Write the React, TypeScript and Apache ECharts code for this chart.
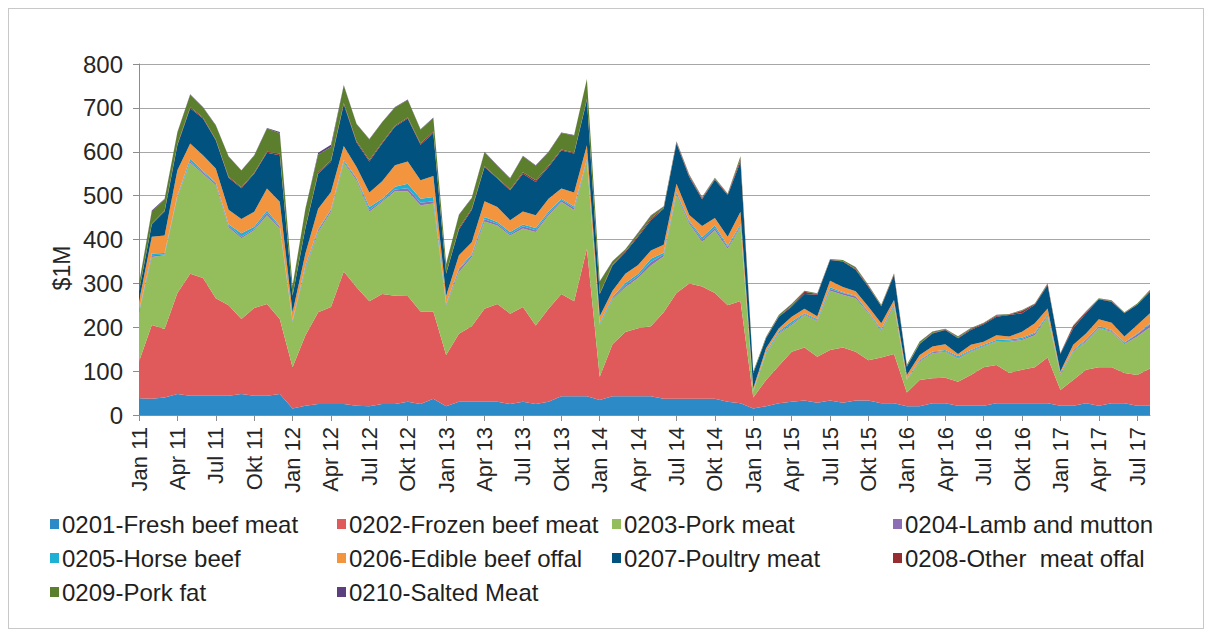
import React, { useEffect, useRef } from "react";
import * as echarts from "echarts";

const monthNames = ["Jan", "Feb", "Mrz", "Apr", "Mai", "Jun", "Jul", "Aug", "Sep", "Okt", "Nov", "Dez"];
const years = ["11", "12", "13", "14", "15", "16", "17"];
const monthCount = 80; // Jan 11 .. Aug 17

const freshBeef = [
  38, 37, 40, 48, 44, 44, 44, 44, 48, 44, 44, 48,
  15, 21, 25, 25, 25, 21, 20, 25, 25, 30, 25, 37,
  20, 30, 30, 30, 30, 25, 30, 25, 30, 43, 43, 43,
  34, 43, 43, 43, 43, 37, 37, 37, 37, 37, 30, 27,
  15, 20, 27, 30, 33, 28, 33, 28, 33, 33, 27, 27,
  20, 20, 27, 27, 21, 21, 21, 27, 27, 27, 27, 27,
  21, 21, 27, 21, 27, 27, 21, 21,
];
const frozenBeef = [
  84, 168, 156, 230, 278, 268, 222, 206, 171, 200, 209, 171,
  94, 160, 209, 221, 302, 270, 239, 251, 247, 241, 211, 199,
  117, 155, 172, 212, 223, 206, 216, 179, 212, 233, 216, 336,
  53, 118, 146, 155, 159, 197, 241, 263, 256, 241, 220, 233,
  25, 60, 85, 114, 121, 105, 115, 126, 111, 92, 104, 112,
  31, 60, 57, 58, 55, 70, 88, 87, 69, 76, 82, 104,
  36, 59, 76, 88, 82, 69, 70, 85,
];
const porkMeat = [
  111, 155, 168, 219, 253, 238, 258, 178, 184, 177, 202, 206,
  103, 152, 183, 217, 248, 244, 204, 210, 238, 239, 242, 246,
  113, 141, 158, 199, 179, 178, 179, 213, 213, 210, 208, 198,
  118, 102, 102, 114, 139, 128, 223, 136, 102, 143, 129, 168,
  13, 59, 74, 61, 74, 81, 135, 120, 122, 107, 60, 108,
  29, 42, 57, 59, 53, 53, 47, 53, 71, 68, 73, 93,
  34, 64, 64, 89, 81, 66, 88, 94,
];
const lambMutton = [
  2, 4, 2, 2, 3, 3, 4, 4, 3, 3, 6, 3,
  2, 3, 4, 4, 3, 4, 4, 3, 4, 7, 6, 5,
  2, 5, 4, 5, 4, 3, 5, 4, 4, 4, 5, 3,
  2, 3, 5, 5, 8, 4, 4, 4, 4, 5, 4, 3,
  1, 2, 2, 3, 2, 2, 4, 4, 4, 2, 2, 3,
  1, 2, 2, 2, 2, 2, 2, 1, 2, 2, 4, 2,
  3, 2, 2, 1, 2, 2, 5, 7,
];
const horseBeef = [
  2, 4, 3, 2, 6, 3, 2, 3, 8, 5, 5, 3,
  2, 5, 3, 2, 3, 2, 7, 4, 6, 10, 9, 10,
  2, 3, 3, 5, 4, 5, 4, 5, 5, 3, 3, 3,
  3, 3, 5, 5, 7, 4, 3, 3, 6, 6, 3, 4,
  1, 3, 3, 5, 2, 3, 4, 2, 2, 2, 3, 3,
  1, 2, 2, 2, 3, 2, 2, 3, 3, 3, 2, 3,
  1, 2, 3, 3, 2, 2, 2, 2,
];
const edibleOffal = [
  21, 38, 40, 57, 35, 36, 32, 33, 33, 34, 50, 55,
  18, 27, 46, 39, 32, 24, 33, 40, 49, 51, 42, 48,
  18, 30, 27, 36, 34, 27, 30, 29, 29, 23, 32, 32,
  15, 14, 21, 20, 19, 18, 19, 13, 26, 17, 20, 28,
  6, 8, 7, 11, 10, 6, 15, 12, 10, 11, 13, 9,
  9, 11, 11, 13, 5, 12, 7, 11, 7, 14, 21, 14,
  4, 12, 14, 16, 16, 13, 19, 23,
];
const poultryMeat = [
  24, 28, 54, 57, 80, 84, 64, 73, 70, 87, 82, 106,
  38, 57, 80, 69, 95, 56, 71, 86, 88, 98, 81, 97,
  50, 59, 73, 78, 65, 68, 86, 76, 72, 87, 89, 103,
  50, 58, 49, 64, 69, 82, 92, 86, 61, 87, 95, 114,
  34, 23, 26, 23, 34, 49, 47, 58, 49, 45, 39, 57,
  19, 25, 30, 33, 36, 34, 40, 42, 49, 42, 42, 53,
  40, 38, 46, 46, 48, 53, 46, 49,
];
const otherOffal = [
  1, 2, 3, 2, 3, 2, 2, 2, 2, 2, 2, 4,
  1, 2, 3, 3, 3, 3, 3, 2, 2, 2, 3, 4,
  1, 3, 3, 2, 2, 2, 3, 4, 3, 2, 2, 2,
  2, 2, 2, 3, 4, 2, 2, 3, 2, 2, 2, 6,
  1, 1, 1, 2, 5, 2, 1, 1, 2, 2, 1, 3,
  1, 1, 1, 1, 1, 2, 2, 2, 1, 5, 2, 2,
  1, 5, 3, 1, 1, 1, 1, 2,
];
const porkFat = [
  16, 28, 26, 27, 28, 23, 32, 46, 38, 39, 53, 46,
  21, 42, 41, 31, 40, 39, 47, 46, 42, 40, 31, 31,
  21, 30, 24, 32, 27, 25, 37, 33, 31, 38, 39, 45,
  27, 7, 4, 6, 6, 3, 2, 2, 2, 2, 1, 6,
  3, 2, 3, 4, 2, 1, 1, 2, 4, 2, 2, 1,
  3, 4, 3, 1, 3, 2, 1, 2, 1, 2, 1, 2,
  1, 1, 1, 1, 2, 1, 2, 2,
];
const saltedMeat = [
  1, 2, 1, 1, 1, 1, 1, 1, 1, 1, 1, 3,
  1, 1, 4, 5, 1, 1, 1, 1, 1, 1, 1, 1,
  1, 1, 1, 1, 1, 1, 1, 1, 1, 1, 1, 1,
  1, 1, 0.5, 1, 1, 0.5, 1, 1, 1, 1, 1, 1,
  0.3, 0.3, 0.3, 0.3, 0.3, 0.3, 0.3, 0.3, 0.3, 0.3, 0.3, 0.3,
  0.3, 0.3, 0.3, 0.3, 0.3, 0.3, 0.3, 0.3, 0.3, 0.3, 0.3, 0.3,
  0.3, 0.3, 0.3, 0.3, 0.3, 0.3, 0.3, 0.3,
];

const seriesNames = [
  "0201-Fresh beef meat",
  "0202-Frozen beef meat",
  "0203-Pork meat",
  "0204-Lamb and mutton",
  "0205-Horse beef",
  "0206-Edible beef offal",
  "0207-Poultry meat",
  "0208-Other  meat offal",
  "0209-Pork fat",
  "0210-Salted Meat",
];
const seriesColors = [
  "#2C8AC6", "#E05A5B", "#94BE5C", "#8D6DB3", "#1FB0D5",
  "#F3953F", "#01527F", "#962D31", "#5B7F2C", "#5C3F7E",
];
const seriesData = [
  freshBeef, frozenBeef, porkMeat, lambMutton, horseBeef,
  edibleOffal, poultryMeat, otherOffal, porkFat, saltedMeat,
];

const yTicks = { min: 0, max: 800, interval: 100 };

const categories: string[] = [];
for (let i = 0; i < monthCount; i++) {
  categories.push(monthNames[i % 12] + " " + years[Math.floor(i / 12)]);
}

const legendColumns = [
  [0, 4, 8],
  [1, 5, 9],
  [2, 6],
  [3, 7],
];
const legendLeft = [41, 328, 603, 884];

export default function App() {
  const ref = useRef<HTMLDivElement>(null);
  useEffect(() => {
    if (!ref.current) return;
    const chart = echarts.init(ref.current, null, { renderer: "svg" });
    const font = "'Liberation Sans', Arial, sans-serif";
    const option: any = {
      animation: false,
      grid: { left: 130, top: 55, width: 1011, height: 351, containLabel: false },
      xAxis: {
        type: "category",
        data: categories,
        boundaryGap: false,
        axisLine: { show: true, lineStyle: { color: "#8C8C8C", width: 1 } },
        axisTick: { show: true, interval: 2, length: 6, lineStyle: { color: "#8C8C8C" } },
        axisLabel: {
          interval: 2,
          rotate: 90,
          margin: 12,
          fontSize: 22,
          fontFamily: font,
          color: "#262626",
        },
        splitLine: { show: false },
      },
      yAxis: {
        type: "value",
        min: yTicks.min,
        max: yTicks.max,
        interval: yTicks.interval,
        axisLine: { show: true, lineStyle: { color: "#8C8C8C", width: 1 } },
        axisTick: { show: true, length: 6, lineStyle: { color: "#8C8C8C" } },
        axisLabel: { fontSize: 24, fontFamily: font, color: "#262626", margin: 16 },
        splitLine: { show: true, lineStyle: { color: "#A6A6A6", width: 1 } },
      },
      legend: legendColumns.map((col, ci) => ({
        orient: "vertical",
        left: legendLeft[ci],
        top: 502,
        padding: 0,
        itemGap: 8,
        itemWidth: 9,
        itemHeight: 10,
        icon: "rect",
        selectedMode: false,
        data: col.map((k) => seriesNames[k]),
        textStyle: { fontSize: 24, fontFamily: font, color: "#1F1F1F", lineHeight: 26, padding: [0, 0, 0, -2] },
      })),
      graphic: [
        {
          type: "text",
          x: 53,
          y: 259,
          rotation: Math.PI / 2,
          style: {
            text: "$1M",
            fontSize: 23,
            fontFamily: font,
            fill: "#262626",
            textAlign: "center",
            textVerticalAlign: "middle",
          },
        },
      ],
      series: seriesNames.map((name, k) => ({
        name,
        type: "line",
        stack: "total",
        data: seriesData[k],
        showSymbol: false,
        symbol: "none",
        smooth: false,
        lineStyle: { width: 0 },
        areaStyle: { color: seriesColors[k], opacity: 1 },
        itemStyle: { color: seriesColors[k] },
        emphasis: { disabled: true },
      })),
    };
    chart.setOption(option);
    return () => chart.dispose();
  }, []);
  return (
    <div
      style={{
        width: 1196,
        height: 621,
        border: "1px solid #C8C8C8",
        boxSizing: "border-box",
        position: "relative",
        background: "#fff",
      }}
    >
      <div ref={ref} style={{ width: 1194, height: 619 }} />
    </div>
  );
}
